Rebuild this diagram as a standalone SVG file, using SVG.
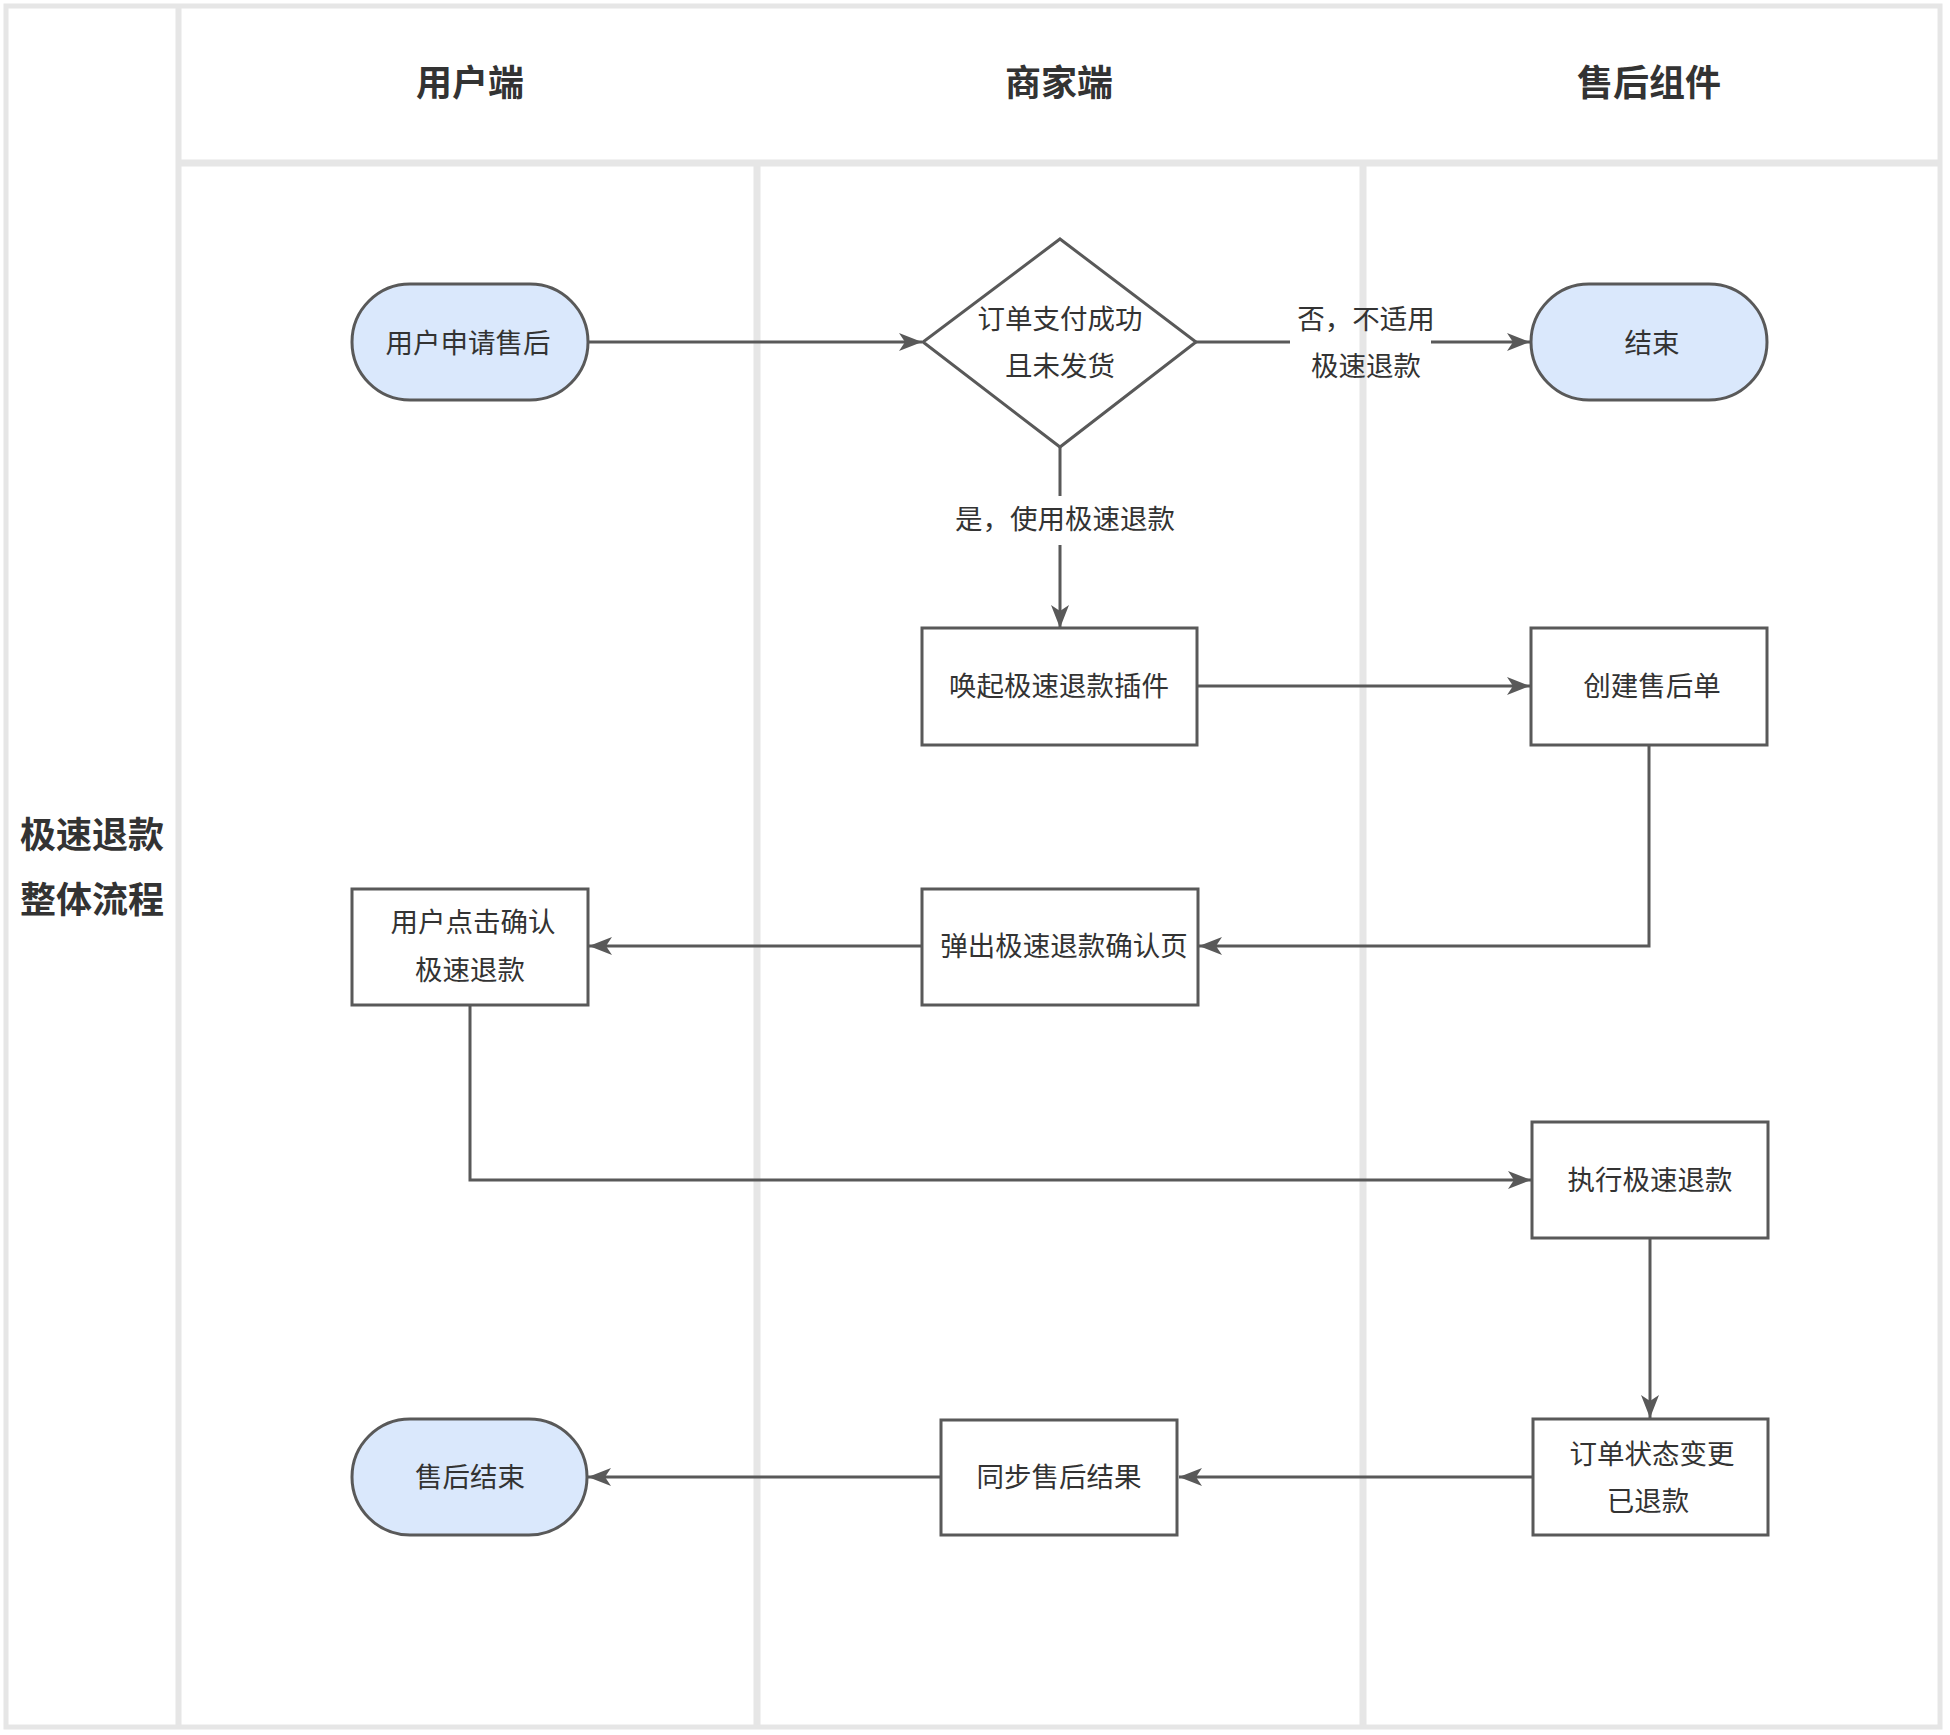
<svg xmlns="http://www.w3.org/2000/svg" width="1950" height="1735" viewBox="0 0 1950 1735">
<defs>
<style>
.lane{fill:none;stroke:#e6e6e6;}
.node{stroke:#595959;stroke-width:3;}
.term{fill:#dae8fc;}
.proc{fill:#ffffff;}
.t{font-family:"Noto Sans CJK SC","Noto Sans",sans-serif;font-size:27.5px;fill:#333333;text-anchor:middle;dominant-baseline:central;}
.h{font-family:"Noto Sans CJK SC","Noto Sans",sans-serif;font-size:36px;font-weight:bold;fill:#333333;text-anchor:middle;dominant-baseline:central;}
.edge{fill:none;stroke:#595959;stroke-width:3;marker-end:url(#arr);}
</style>
<marker id="arr" markerUnits="userSpaceOnUse" markerWidth="26" markerHeight="20" refX="23" refY="9" orient="auto">
<path d="M0,0 L23,9 L0,18 L6,9 Z" fill="#595959"/>
</marker>
</defs>
<rect x="0" y="0" width="1950" height="1735" fill="#ffffff"/>
<g id="pool">
<rect class="lane" x="6" y="6" width="1934" height="1721" stroke-width="5"/>
<line class="lane" x1="178.5" y1="6" x2="178.5" y2="1727" stroke-width="6"/>
<line class="lane" x1="178" y1="163" x2="1940" y2="163" stroke-width="7"/>
<line class="lane" x1="757" y1="163" x2="757" y2="1727" stroke-width="7"/>
<line class="lane" x1="1363" y1="163" x2="1363" y2="1727" stroke-width="7"/>
<text class="h" x="92" y="832">极速退款</text>
<text class="h" x="92" y="897">整体流程</text>
<text class="h" x="470" y="80">用户端</text>
<text class="h" x="1059" y="80">商家端</text>
<text class="h" x="1649" y="80">售后组件</text>
</g>
<g id="connectors">
<path class="edge" d="M588,342 H922"/>
<path class="edge" d="M1196,342 H1290 M1431,342 H1530"/>
<path class="edge" d="M1060,447 V496 M1060,545 V628"/>
<path class="edge" d="M1197,686 H1530"/>
<path class="edge" d="M1649,745 V946 H1199"/>
<path class="edge" d="M922,946 H589"/>
<path class="edge" d="M470,1005 V1180 H1531"/>
<path class="edge" d="M1650,1238 V1418"/>
<path class="edge" d="M1533,1477 H1179"/>
<path class="edge" d="M941,1477 H588"/>
<text class="t" x="1366" y="317">否，不适用</text>
<text class="t" x="1366" y="364">极速退款</text>
<text class="t" x="1065" y="517">是，使用极速退款</text>
</g>
<g id="n-apply">
<rect class="node term" x="352" y="284" width="236" height="116" rx="58" ry="58"/>
<text class="t" x="468" y="341">用户申请售后</text>
</g>
<g id="n-decision">
<polygon class="node proc" points="1060,239 1196,342 1060,447 923,342"/>
<text class="t" x="1060" y="317">订单支付成功</text>
<text class="t" x="1060" y="364">且未发货</text>
</g>
<g id="n-end1">
<rect class="node term" x="1531" y="284" width="236" height="116" rx="58" ry="58"/>
<text class="t" x="1652" y="341">结束</text>
</g>
<g id="n-plugin">
<rect class="node proc" x="922" y="628" width="275" height="117"/>
<text class="t" x="1059" y="684">唤起极速退款插件</text>
</g>
<g id="n-create">
<rect class="node proc" x="1531" y="628" width="236" height="117"/>
<text class="t" x="1652" y="684">创建售后单</text>
</g>
<g id="n-popup">
<rect class="node proc" x="922" y="889" width="276" height="116"/>
<text class="t" x="1064" y="944">弹出极速退款确认页</text>
</g>
<g id="n-confirm">
<rect class="node proc" x="352" y="889" width="236" height="116"/>
<text class="t" x="473" y="920">用户点击确认</text>
<text class="t" x="470" y="968">极速退款</text>
</g>
<g id="n-exec">
<rect class="node proc" x="1532" y="1122" width="236" height="116"/>
<text class="t" x="1650" y="1178">执行极速退款</text>
</g>
<g id="n-status">
<rect class="node proc" x="1533" y="1419" width="235" height="116"/>
<text class="t" x="1652" y="1452">订单状态变更</text>
<text class="t" x="1648" y="1499">已退款</text>
</g>
<g id="n-sync">
<rect class="node proc" x="941" y="1420" width="236" height="115"/>
<text class="t" x="1059" y="1475">同步售后结果</text>
</g>
<g id="n-end2">
<rect class="node term" x="352" y="1419" width="235" height="116" rx="58" ry="58"/>
<text class="t" x="470" y="1475">售后结束</text>
</g>
</svg>
